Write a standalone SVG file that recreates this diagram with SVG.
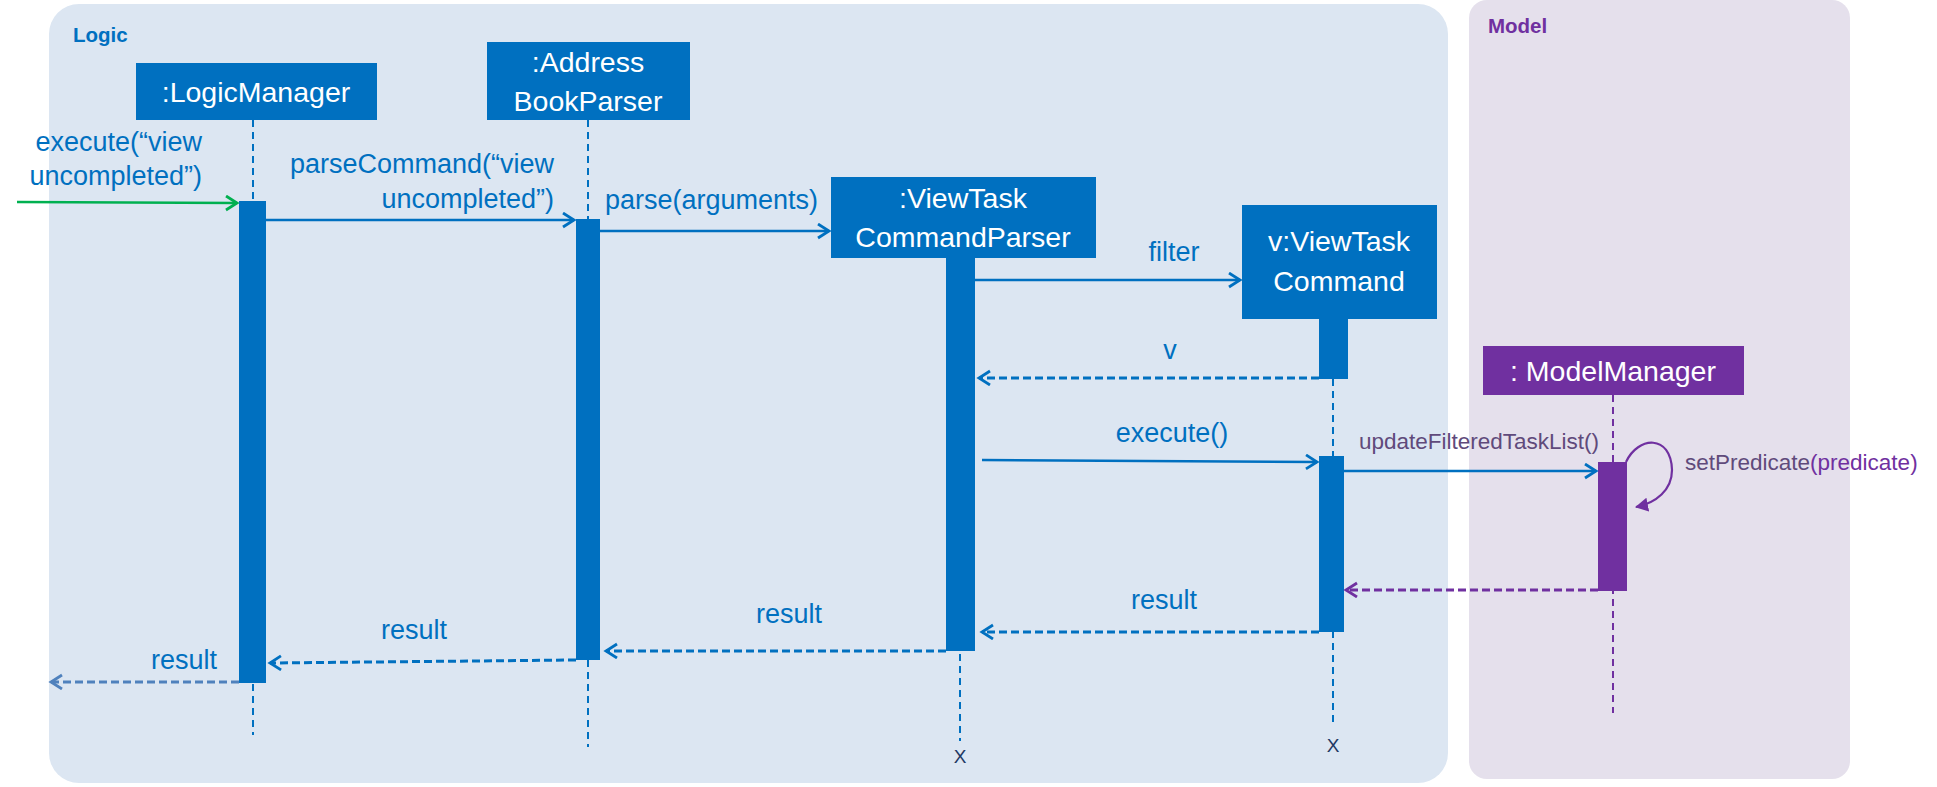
<svg xmlns="http://www.w3.org/2000/svg" width="1937" height="787" viewBox="0 0 1937 787">
<style>
.panel-logic{fill:#DCE6F2}
.panel-model{fill:#E5E0EC}
.ptitle{font-family:"Liberation Sans",Arial,sans-serif;font-weight:bold;font-size:20.5px}
.box{fill:#0070C0}
.boxp{fill:#7030A0}
.btxt{font-family:"Liberation Sans",Arial,sans-serif;font-size:28.5px;fill:#FFFFFF;text-anchor:middle}
.life{stroke:#0070C0;stroke-width:2;stroke-dasharray:7 5;fill:none}
.lifep{stroke:#7030A0;stroke-width:2;stroke-dasharray:7 5;fill:none}
.msg{stroke:#0070C0;stroke-width:2.6;fill:none}
.ret{stroke:#0070C0;stroke-width:3;stroke-dasharray:8 4;fill:none}
.lbl{font-family:"Liberation Sans",Arial,sans-serif;font-size:27px;fill:#0070C0}
.plbl{font-family:"Liberation Sans",Arial,sans-serif;font-size:22.5px;fill:#604A7B}
.xm{font-family:"Liberation Sans",Arial,sans-serif;font-size:19px;fill:#1F3864;text-anchor:middle}
</style>
<defs>
<marker id="ab" markerUnits="userSpaceOnUse" markerWidth="18" markerHeight="18" refX="12" refY="8" orient="auto"><path d="M1,1 L12,8 L1,15" fill="none" stroke="#0070C0" stroke-width="2.8"/></marker>
<marker id="ag" markerUnits="userSpaceOnUse" markerWidth="18" markerHeight="18" refX="12" refY="8" orient="auto"><path d="M1,1 L12,8 L1,15" fill="none" stroke="#00B050" stroke-width="2.8"/></marker>
<marker id="ap" markerUnits="userSpaceOnUse" markerWidth="18" markerHeight="18" refX="12" refY="8" orient="auto"><path d="M1,1 L12,8 L1,15" fill="none" stroke="#7030A0" stroke-width="2.8"/></marker>
<marker id="al" markerUnits="userSpaceOnUse" markerWidth="18" markerHeight="18" refX="12" refY="8" orient="auto"><path d="M1,1 L12,8 L1,15" fill="none" stroke="#4F81BD" stroke-width="2.8"/></marker>
<marker id="apf" markerUnits="userSpaceOnUse" markerWidth="16" markerHeight="16" refX="12" refY="7" orient="auto"><path d="M0,0 L13,7 L0,14 Z" fill="#7030A0"/></marker>
</defs>

<g id="panels">
<rect class="panel-logic" x="49" y="4" width="1399" height="779" rx="30" ry="30"/>
<text class="ptitle" x="73" y="42" fill="#0070C0">Logic</text>
<rect class="panel-model" x="1469" y="0" width="381" height="779" rx="18" ry="18"/>
<text class="ptitle" x="1488" y="33" fill="#7030A0">Model</text>
</g>

<g id="lifelines">
<line class="life" x1="253" y1="120" x2="253" y2="735"/>
<line class="life" x1="588" y1="120" x2="588" y2="747"/>
<line class="life" x1="960" y1="258" x2="960" y2="741"/>
<line class="life" x1="1333" y1="319" x2="1333" y2="726"/>
<line class="lifep" x1="1613" y1="395" x2="1613" y2="713"/>
</g>

<g id="LogicManager">
<rect class="box" x="136" y="63" width="241" height="57"/>
<text class="btxt" x="256" y="102">:LogicManager</text>
<rect class="box" x="239" y="201" width="27" height="482"/>
</g>

<g id="AddressBookParser">
<rect class="box" x="487" y="42" width="203" height="78"/>
<text class="btxt" x="588" y="72">:Address</text>
<text class="btxt" x="588" y="111">BookParser</text>
<rect class="box" x="576" y="219" width="24" height="441"/>
</g>

<g id="ViewTaskCommandParser">
<rect class="box" x="831" y="177" width="265" height="81"/>
<text class="btxt" x="963" y="208">:ViewTask</text>
<text class="btxt" x="963" y="247">CommandParser</text>
<rect class="box" x="946" y="258" width="29" height="393"/>
<text class="xm" x="960" y="763">X</text>
</g>

<g id="ViewTaskCommand">
<rect class="box" x="1242" y="205" width="195" height="114"/>
<text class="btxt" x="1339" y="251">v:ViewTask</text>
<text class="btxt" x="1339" y="291">Command</text>
<rect class="box" x="1319" y="319" width="29" height="60"/>
<rect class="box" x="1319" y="456" width="25" height="176"/>
<text class="xm" x="1333" y="752">X</text>
</g>

<g id="ModelManager">
<rect class="boxp" x="1483" y="346" width="261" height="49"/>
<text class="btxt" x="1613" y="381">: ModelManager</text>
<rect class="boxp" x="1598" y="462" width="29" height="129"/>
</g>

<g id="connectors">
<line x1="17" y1="202" x2="237" y2="203" stroke="#00B050" stroke-width="2.6" marker-end="url(#ag)"/>
<line class="msg" x1="266" y1="220" x2="574" y2="220" marker-end="url(#ab)"/>
<line class="msg" x1="600" y1="231" x2="829" y2="231" marker-end="url(#ab)"/>
<line class="msg" x1="975" y1="280" x2="1240" y2="280" marker-end="url(#ab)"/>
<line class="ret" x1="1319" y1="378" x2="979" y2="378" marker-end="url(#ab)"/>
<line class="msg" x1="982" y1="460" x2="1317" y2="462" marker-end="url(#ab)"/>
<line class="msg" x1="1344" y1="471" x2="1596" y2="471" marker-end="url(#ab)"/>
<path d="M1626,462 C1638,436 1671,434 1672,470 C1672,490 1656,503 1636,507" fill="none" stroke="#7030A0" stroke-width="2.2" marker-end="url(#apf)"/>
<line class="ret" x1="1598" y1="590" x2="1346" y2="590" style="stroke:#7030A0" marker-end="url(#ap)"/>
<line class="ret" x1="1319" y1="632" x2="982" y2="632" marker-end="url(#ab)"/>
<line class="ret" x1="946" y1="651" x2="606" y2="651" marker-end="url(#ab)"/>
<line class="ret" x1="576" y1="660" x2="270" y2="663" marker-end="url(#ab)"/>
<line class="ret" x1="239" y1="682" x2="51" y2="682" style="stroke:#4F81BD" marker-end="url(#al)"/>
</g>

<g id="labels">
<text class="lbl" x="202" y="151" text-anchor="end">execute(“view</text>
<text class="lbl" x="202" y="185" text-anchor="end">uncompleted”)</text>
<text class="lbl" x="554" y="173" text-anchor="end">parseCommand(“view</text>
<text class="lbl" x="554" y="208" text-anchor="end">uncompleted”)</text>
<text class="lbl" x="605" y="209">parse(arguments)</text>
<text class="lbl" x="1174" y="261" text-anchor="middle">filter</text>
<text class="lbl" x="1170" y="359" text-anchor="middle">v</text>
<text class="lbl" x="1172" y="442" text-anchor="middle">execute()</text>
<text class="plbl" x="1359" y="449">updateFilteredTaskList()</text>
<text class="plbl" x="1685" y="470">setPredicate<tspan fill="#7030A0">(predicate)</tspan></text>
<text class="lbl" x="1164" y="609" text-anchor="middle">result</text>
<text class="lbl" x="789" y="623" text-anchor="middle">result</text>
<text class="lbl" x="414" y="639" text-anchor="middle">result</text>
<text class="lbl" x="184" y="669" text-anchor="middle">result</text>
</g>
</svg>
